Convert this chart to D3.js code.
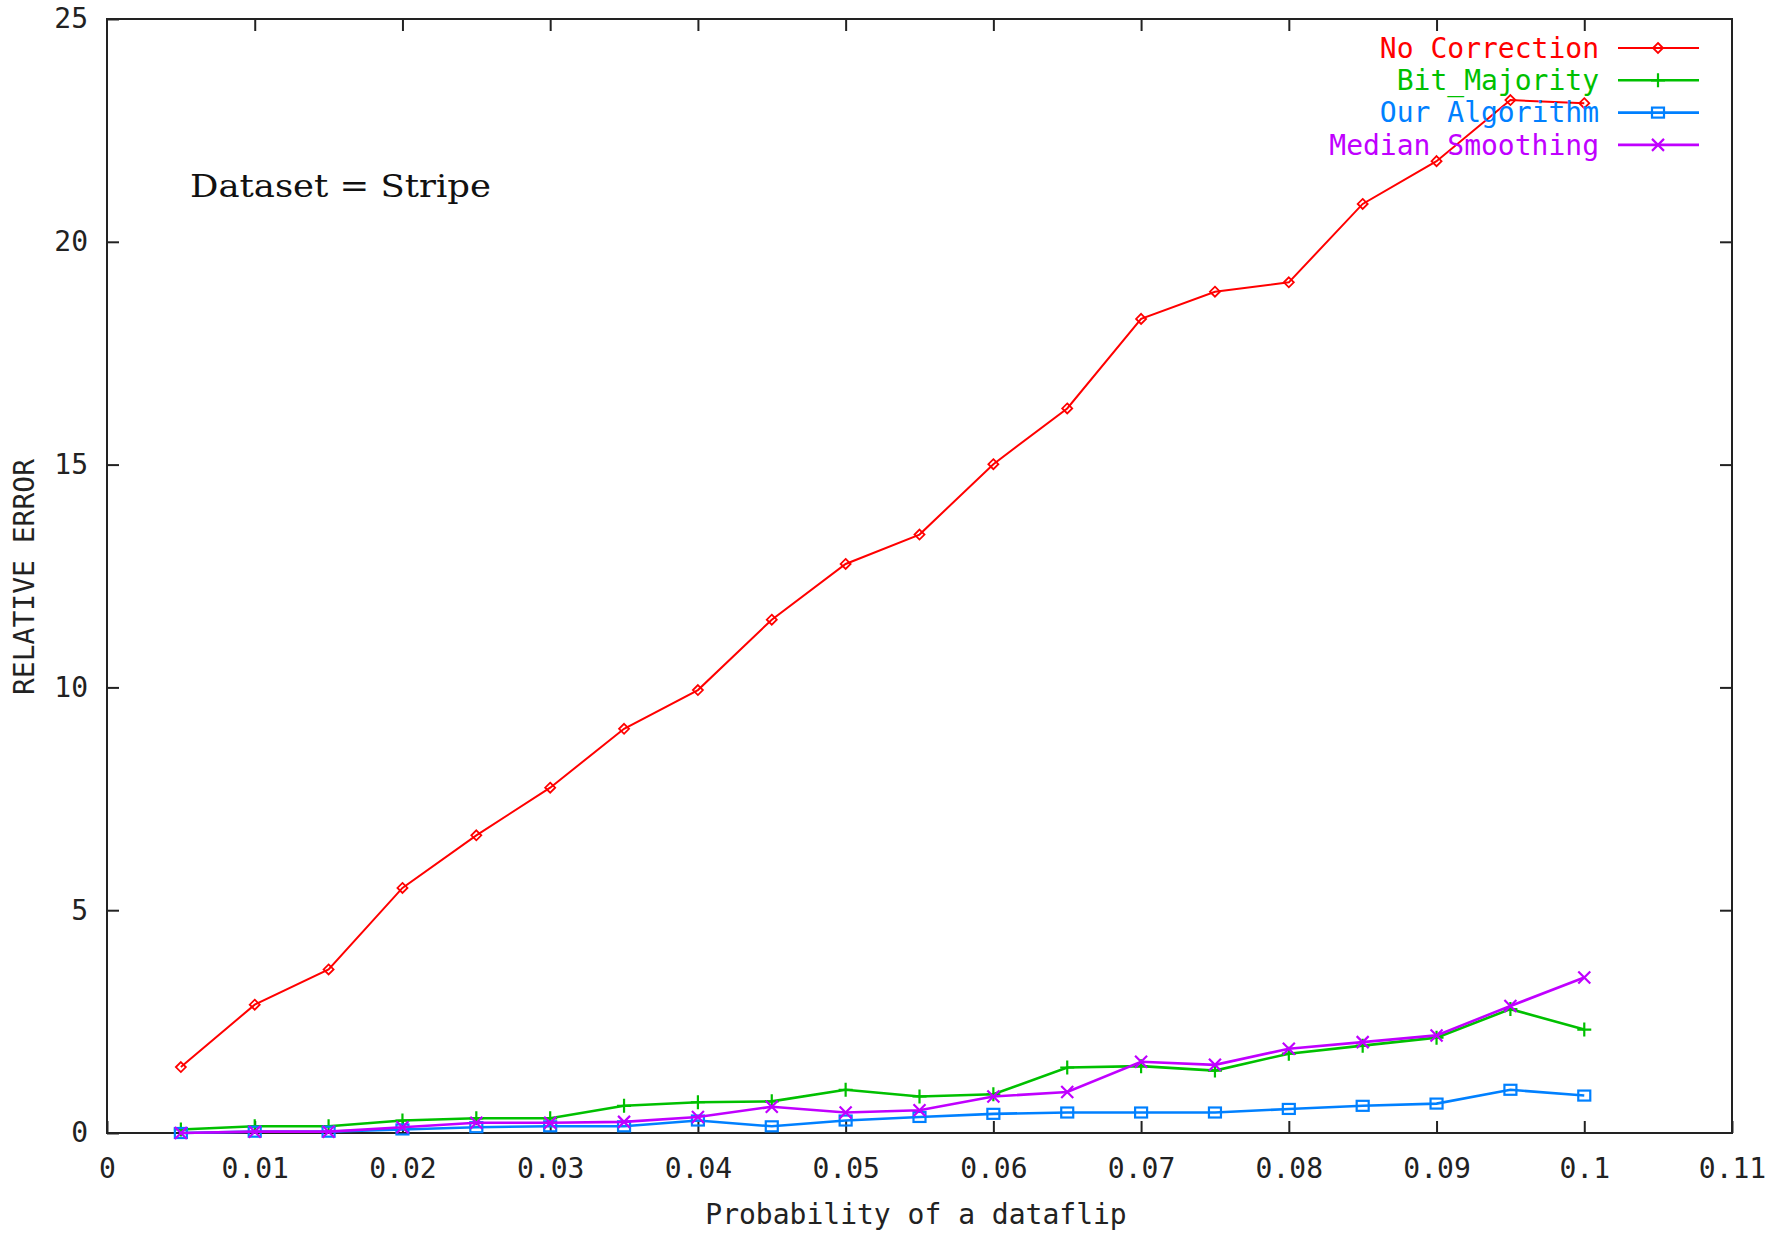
<!DOCTYPE html>
<html>
<head>
<meta charset="utf-8">
<script src="https://cdn.jsdelivr.net/npm/d3@7"></script>
<style>
  html, body { margin: 0; padding: 0; background: #fff; }
  svg { display: block; }
  text { font-family: "DejaVu Sans Mono", monospace; }
</style>
</head>
<body>
<svg id="chart"></svg>
<script>
// probability of a dataflip
const flipProb = [0.005, 0.01, 0.015, 0.02, 0.025, 0.03, 0.035, 0.04, 0.045, 0.05,
                  0.055, 0.06, 0.065, 0.07, 0.075, 0.08, 0.085, 0.09, 0.095, 0.1];

const noCorrection = [1.48, 2.88, 3.67, 5.50, 6.68, 7.75, 9.07, 9.94, 11.52, 12.77,
                      13.43, 15.01, 16.26, 18.27, 18.88, 19.09, 20.85, 21.81, 23.18, 23.11];
const bitMajority = [0.08, 0.15, 0.15, 0.28, 0.33, 0.33, 0.61, 0.69, 0.71, 0.97,
                     0.82, 0.87, 1.47, 1.50, 1.40, 1.78, 1.96, 2.14, 2.78, 2.32];
const ourAlgorithm = [0.0, 0.03, 0.03, 0.08, 0.13, 0.15, 0.15, 0.28, 0.15, 0.28,
                      0.36, 0.43, 0.46, 0.46, 0.46, 0.54, 0.61, 0.66, 0.97, 0.84];
const medianSmoothing = [0.0, 0.03, 0.03, 0.13, 0.23, 0.23, 0.25, 0.36, 0.59, 0.46,
                         0.51, 0.82, 0.92, 1.60, 1.53, 1.89, 2.04, 2.19, 2.85, 3.49];

const seriesNames = ["No Correction", "Bit_Majority", "Our Algorithm", "Median Smoothing"];
const seriesColors = ["#ff0000", "#00c000", "#0080ff", "#c000ff"];
const seriesMarks = ["diamond", "plus", "box", "cross"];

const xTicks = [0, 0.01, 0.02, 0.03, 0.04, 0.05, 0.06, 0.07, 0.08, 0.09, 0.1, 0.11];
const xTickLabels = ["0", "0.01", "0.02", "0.03", "0.04", "0.05", "0.06", "0.07", "0.08", "0.09", "0.1", "0.11"];
const yTicks = [0, 5, 10, 15, 20, 25];

const width = 1781, height = 1233;
const plotLeft = 107, plotRight = 1732, plotTop = 19, plotBottom = 1133;

const svg = d3.select("#chart").attr("width", width).attr("height", height);

const x = d3.scaleLinear().domain([0, 0.11]).range([plotLeft, plotRight]);
const y = d3.scaleLinear().domain([0, 25]).range([plotBottom, plotTop]);

// axes, gnuplot style: ticks point inwards, mirrored on top/right
svg.append("g")
    .attr("transform", `translate(0,${plotBottom})`)
    .call(d3.axisBottom(x).tickValues(xTicks).tickFormat((d, i) => xTickLabels[i])
        .tickSize(-12).tickPadding(25));
svg.append("g")
    .attr("transform", `translate(0,${plotTop})`)
    .call(d3.axisTop(x).tickValues(xTicks.slice(1, -1)).tickFormat("").tickSize(-12));
svg.append("g")
    .attr("transform", `translate(${plotLeft},0)`)
    .call(d3.axisLeft(y).tickValues(yTicks).tickSize(-12).tickPadding(19));
svg.append("g")
    .attr("transform", `translate(${plotRight},0)`)
    .call(d3.axisRight(y).tickValues(yTicks.slice(1, -1)).tickFormat("").tickSize(-12));

svg.selectAll(".domain").remove();
svg.selectAll(".tick line").attr("stroke", "#222").attr("stroke-width", 2);
svg.selectAll(".tick text")
    .attr("fill", "#222")
    .style("font-family", "'DejaVu Sans Mono', monospace")
    .style("font-size", "28px");

svg.append("rect")
    .attr("x", plotLeft).attr("y", plotTop)
    .attr("width", plotRight - plotLeft).attr("height", plotBottom - plotTop)
    .attr("fill", "none").attr("stroke", "#222").attr("stroke-width", 2);

// axis titles
svg.append("text")
    .attr("x", 916).attr("y", 1224)
    .attr("text-anchor", "middle")
    .attr("fill", "#222")
    .style("font-size", "28px")
    .text("Probability of a dataflip");

svg.append("text")
    .attr("transform", "translate(34,577) rotate(-90)")
    .attr("text-anchor", "middle")
    .attr("fill", "#222")
    .style("font-size", "28px")
    .text("RELATIVE ERROR");

svg.append("text")
    .attr("x", 190).attr("y", 197)
    .attr("fill", "#111")
    .attr("textLength", 301)
    .attr("lengthAdjust", "spacingAndGlyphs")
    .style("font-family", "'DejaVu Serif', serif")
    .style("font-size", "32px")
    .text("Dataset = Stripe");

// point markers
function drawMark(g, kind, color) {
    if (kind === "diamond") {
        g.append("path").attr("d", "M0,-5L5,0L0,5L-5,0Z")
            .attr("fill", "none").attr("stroke", color).attr("stroke-width", 1.8);
    } else if (kind === "plus") {
        g.append("path").attr("d", "M-7,0H7M0,-7V7")
            .attr("stroke", color).attr("stroke-width", 2.2);
    } else if (kind === "box") {
        g.append("rect").attr("x", -6).attr("y", -5).attr("width", 12).attr("height", 10)
            .attr("fill", "none").attr("stroke", color).attr("stroke-width", 2.2);
    } else {
        g.append("path").attr("d", "M-6,-6L6,6M-6,6L6,-6")
            .attr("stroke", color).attr("stroke-width", 2.2);
    }
}

const allSeries = [noCorrection, bitMajority, ourAlgorithm, medianSmoothing];

const line = d3.line()
    .x((d, i) => x(flipProb[i]))
    .y(d => y(d));

allSeries.forEach((vals, s) => {
    const g = svg.append("g");
    g.append("path")
        .attr("d", line(vals))
        .attr("fill", "none")
        .attr("stroke", seriesColors[s])
        .attr("stroke-width", s === 0 ? 2 : 2.6);
    vals.forEach((v, i) => {
        const m = g.append("g").attr("transform", `translate(${x(flipProb[i])},${y(v)})`);
        drawMark(m, seriesMarks[s], seriesColors[s]);
    });
});

// legend
const legend = svg.append("g");
seriesNames.forEach((name, s) => {
    const ly = 48 + s * 32.3;
    legend.append("text")
        .attr("x", 1599).attr("y", ly).attr("dy", "0.35em")
        .attr("text-anchor", "end")
        .attr("fill", seriesColors[s])
        .style("font-size", "28px")
        .text(name);
    legend.append("line")
        .attr("x1", 1618).attr("x2", 1699)
        .attr("y1", ly).attr("y2", ly)
        .attr("stroke", seriesColors[s])
        .attr("stroke-width", s === 0 ? 2 : 2.6);
    drawMark(legend.append("g").attr("transform", `translate(1658,${ly})`), seriesMarks[s], seriesColors[s]);
});
</script>
</body>
</html>
